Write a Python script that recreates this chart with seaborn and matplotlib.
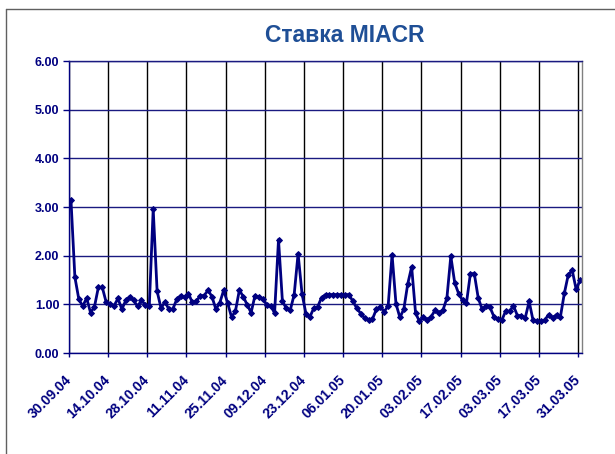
import matplotlib
matplotlib.use("Agg")
import matplotlib.pyplot as plt
from matplotlib.lines import Line2D
import seaborn as sns
import pandas as pd

# ---- data ----
dates = pd.bdate_range("2004-09-30", "2005-03-31")
date_labels = [d.strftime("%d.%m.%y") for d in dates]
rates = [
    3.15, 1.56, 1.11, 0.96, 1.13, 0.83, 0.95, 1.35, 1.35, 1.04,
    1.01, 0.97, 1.12, 0.90, 1.08, 1.16, 1.08, 0.96, 1.08, 0.99,
    0.96, 2.96, 1.27, 0.92, 1.05, 0.90, 0.90, 1.10, 1.18, 1.15,
    1.22, 1.04, 1.06, 1.18, 1.18, 1.29, 1.16, 0.90, 1.03, 1.29,
    1.03, 0.74, 0.86, 1.29, 1.16, 0.99, 0.83, 1.18, 1.15, 1.11,
    0.99, 0.97, 0.82, 2.33, 1.06, 0.92, 0.88, 1.20, 2.04, 1.22,
    0.81, 0.74, 0.92, 0.95, 1.14, 1.20, 1.20, 1.20, 1.20, 1.20,
    1.20, 1.20, 1.06, 0.92, 0.81, 0.72, 0.68, 0.70, 0.90, 0.95,
    0.85, 0.97, 2.02, 1.01, 0.73, 0.90, 1.42, 1.77, 0.82, 0.65,
    0.74, 0.68, 0.75, 0.88, 0.83, 0.88, 1.13, 1.99, 1.44, 1.22,
    1.08, 1.03, 1.63, 1.63, 1.13, 0.90, 0.97, 0.94, 0.75, 0.70,
    0.67, 0.86, 0.86, 0.97, 0.77, 0.77, 0.72, 1.06, 0.67, 0.65,
    0.65, 0.68, 0.79, 0.72, 0.79, 0.75, 1.23, 1.61, 1.70, 1.31,
    1.49,
]
y_ticks = [0, 1, 2, 3, 4, 5, 6]
title = "Ставка MIACR"

df = pd.DataFrame({"idx": range(len(rates)), "rate": rates})

sns.set_style("white")
plt.rcParams["font.family"] = ["Liberation Sans", "DejaVu Sans"]

navy = "#000080"
fig = plt.figure(figsize=(6.15, 4.54), dpi=100)
ax = fig.add_axes([69 / 615, 1 - 353 / 454, (582 - 69) / 615, (353 - 61) / 454])

sns.lineplot(data=df, x="idx", y="rate", ax=ax, color=navy, linewidth=2.0,
             marker="D", markersize=3, markeredgecolor=navy, markerfacecolor=navy)

n = len(rates)
ax.set_xlim(-0.5, n - 0.5)
ax.set_ylim(0, 6)

xt = [i - 0.5 for i in range(0, n, 10)]
ax.set_xticks(xt)
ax.set_xticklabels([date_labels[i] for i in range(0, n, 10)], rotation=45,
                   ha="right", va="center", rotation_mode="anchor",
                   fontsize=10, fontweight="bold", color=navy)
ax.set_yticks(y_ticks)
ax.set_yticklabels([f"{v:.2f}" for v in y_ticks], fontsize=9,
                   fontweight="bold", color=navy)
ax.tick_params(axis="x", length=3, width=1, color=navy, pad=15, bottom=True)
ax.tick_params(axis="y", length=4, width=1, color=navy, pad=3, left=True)

ax.grid(True, axis="x", color="#000000", linewidth=1)
ax.grid(True, axis="y", color="#1a1a80", linewidth=1)
ax.set_axisbelow(True)

ax.spines["left"].set_color(navy)
ax.spines["bottom"].set_color(navy)
ax.spines["top"].set_color("#1a1a80")
ax.spines["right"].set_color("#808080")
for s in ax.spines.values():
    s.set_linewidth(1)
ax.set_xlabel("")
ax.set_ylabel("")

fig.text(345 / 615, 1 - 35 / 454, title, ha="center", va="center",
         fontsize=16.5, fontweight="bold", color="#1f4f96")

# outer chart frame (left and top edges visible)
fig.add_artist(Line2D([6 / 615, 6 / 615], [0, 1 - 9 / 454], color="#606060", lw=1))
fig.add_artist(Line2D([6 / 615, 1], [1 - 9 / 454, 1 - 9 / 454], color="#606060", lw=1))

fig.savefig("out.png", dpi=100, facecolor="white")
